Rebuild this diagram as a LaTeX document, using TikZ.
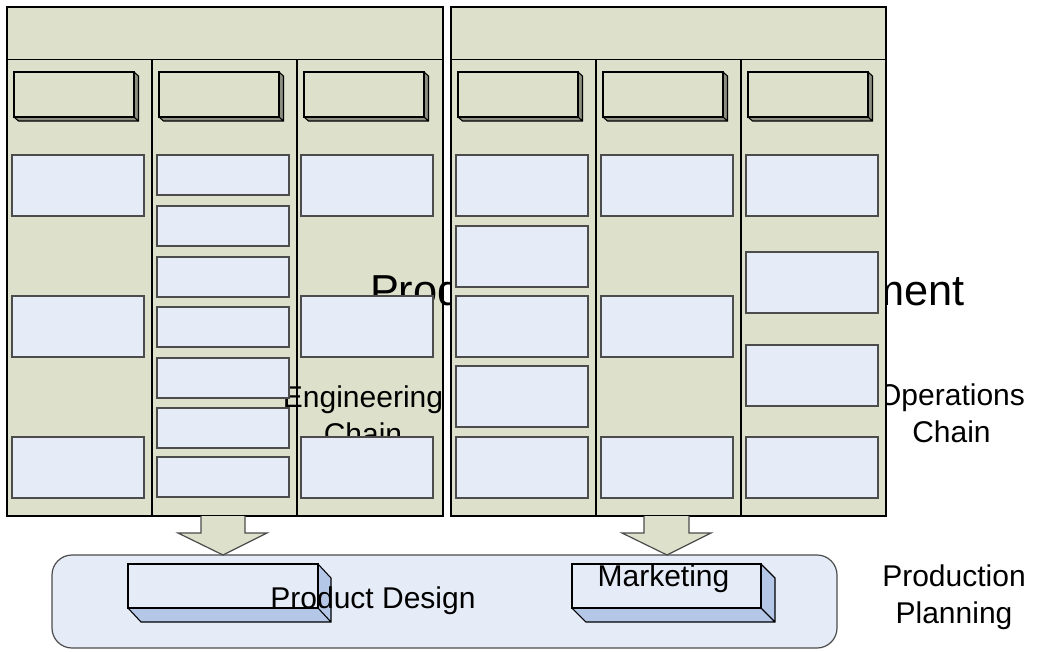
\documentclass[tikz,border=0pt]{standalone}
\usepackage{fontspec}
\setmainfont{Liberation Sans}
\definecolor{panel}{RGB}{221,224,202}
\definecolor{boxfill}{RGB}{230,236,247}
\definecolor{sidefill}{RGB}{180,199,231}
\definecolor{bevel}{RGB}{140,142,128}
\tikzset{
  panelbg/.style={fill=panel, draw=black, line width=1pt},
  bluebox/.style={fill=boxfill, draw=black!70, line width=0.9pt},
  label/.style={anchor=base, font=\fontsize{22.5}{27.75}\selectfont, align=center},
  blockarrow/.style={fill=panel, draw=black!70, line width=0.9pt}
}
% raised slab: x1, y1, x2, y2, depth x, depth y, front colour, side colour
\newcommand{\slab}[8]{%
  \fill[#8] (#1,#4) -- (#1+#5,#4+#6) -- (#3+#5,#4+#6) -- (#3+#5,#2+#6) -- (#3,#2) -- cycle;
  \draw[line width=0.8pt] (#1,#4) -- (#1+#5,#4+#6) -- (#3+#5,#4+#6) -- (#3+#5,#2+#6) -- (#3,#2)
    (#3,#4) -- (#3+#5,#4+#6);
  \draw[line width=0.8pt, fill=#7] (#1,#2) rectangle (#3,#4);
}
\begin{document}
\begin{tikzpicture}[x=0.75pt,y=-0.75pt]
  \useasboundingbox (0,0) rectangle (1042,651);
  % engineering panel
  \draw[panelbg] (7,7) rectangle (443,516);
  \draw[line width=1pt] (7,59.5) -- (443,59.5) (152,59.5) -- (152,516) (297,59.5) -- (297,516);
  \foreach \x in {7,152,297} \slab{\x+7}{72}{\x+127}{117}{4.5}{4}{panel}{bevel};
  % big labels
  \node[anchor=base, font=\fontsize{32.5}{39}\selectfont] (plm) at (667.5,305) {Product Lifecycle Management};
  \node[label] (eng) at (363,444) {Engineering\\Chain};
  \node[label] (ops) at (951.5,442) {Operations\\Chain};
  \foreach \y in {155,296,437} {
    \draw[bluebox] (12,\y) rectangle +(132,61);
    \draw[bluebox] (301,\y) rectangle +(132,61);
  }
  \foreach \y in {155,206,257,307,358,408,457} \draw[bluebox] (157,\y) rectangle +(132,40);
  % operations panel
  \draw[panelbg] (451,7) rectangle (886,516);
  \draw[line width=1pt] (451,59.5) -- (886,59.5) (596,59.5) -- (596,516) (741,59.5) -- (741,516);
  \foreach \x in {451,596,741} \slab{\x+7}{72}{\x+127}{117}{4.5}{4}{panel}{bevel};
  \foreach \y in {155,226,296,366,437} \draw[bluebox] (456,\y) rectangle +(132,61);
  \foreach \y in {155,296,437} \draw[bluebox] (601,\y) rectangle +(132,61);
  \foreach \y in {155,252,345,437} \draw[bluebox] (746,\y) rectangle +(132,61);
  % planning
  \draw[bluebox, rounded corners=15pt] (52,555) rectangle (837,648);
  \draw[blockarrow] (201,516) -- (201,533) -- (178,533) -- (223,555) -- (267,533) -- (245,533) -- (245,516);
  \draw[blockarrow] (644,516) -- (644,533) -- (622,533) -- (667,555) -- (711,533) -- (689,533) -- (689,516);
  \slab{128}{564}{318}{608}{13}{14}{boxfill}{sidefill};
  \slab{572}{564}{761}{608}{14}{14}{boxfill}{sidefill};
  \node[label] (design) at (373,608) {Product Design};
  \node[label] (mkt) at (663.5,586) {Marketing};
  \node[label] (plan) at (954,623) {Production\\Planning};
\end{tikzpicture}
\end{document}
